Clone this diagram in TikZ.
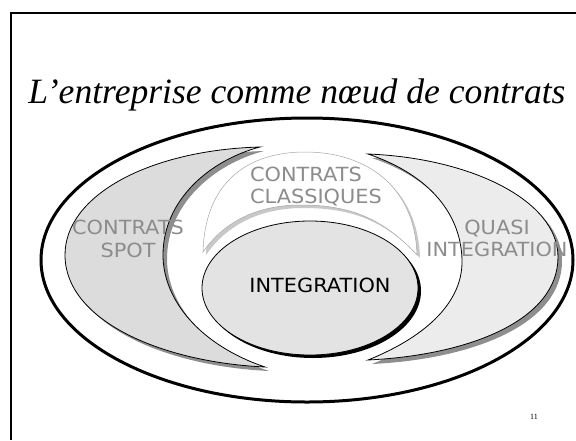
\documentclass[tikz,border=0pt]{standalone}
\usepackage{fontspec}
\setmainfont{Liberation Serif}
\newfontfamily\comicfont{DejaVu Sans}
\definecolor{spotgray}{HTML}{DCDCDC}
\definecolor{quasigray}{HTML}{ECECEC}
\definecolor{integgray}{HTML}{E3E3E3}
\definecolor{shadowgray}{HTML}{8E8E8E}
\definecolor{lightshadow}{HTML}{C8C8C8}
\definecolor{labelgray}{HTML}{8C8C8C}
\tikzset{
  crescent/.style={draw=black, line width=0.8pt},
  label/.style={font=\comicfont\fontsize{19.5}{22.5}\selectfont, text=labelgray, inner sep=0pt, xscale=1.07},
}

\begin{document}
\begin{tikzpicture}[x=1pt,y=-1pt]
	\useasboundingbox (0,0) rectangle (576,440);
	% cadre de la diapositive
	\draw[line width=2pt] (576,13) -| (11,440);
	\node[font=\itshape\fontsize{35.6}{40}\selectfont, anchor=base] (title) at (297,103) {L’entreprise comme nœud de contrats};
	\draw[line width=3pt] (307,260) ellipse [x radius=266, y radius=142];
	% contrats spot
	\fill[shadowgray, shift={(4,4)}] (260,147) .. controls (150,150) and (65,195) .. (65,255) .. controls (65,320) and (160,362) .. (265,367)
		.. controls (200,345) and (163,300) .. (163,255) .. controls (163,200) and (210,160) .. (260,147) -- cycle;
	\filldraw[crescent, fill=spotgray] (260,147) .. controls (150,150) and (65,195) .. (65,255) .. controls (65,320) and (160,362) .. (265,367)
		.. controls (200,345) and (163,300) .. (163,255) .. controls (163,200) and (210,160) .. (260,147) -- cycle;
	% quasi integration
	\fill[shadowgray, shift={(4,4)}] (368,154) .. controls (470,158) and (558,200) .. (558,257) .. controls (558,320) and (470,355) .. (368,360)
		.. controls (430,335) and (462,300) .. (462,262) .. controls (462,215) and (430,175) .. (368,154) -- cycle;
	\filldraw[crescent, fill=quasigray] (368,154) .. controls (470,158) and (558,200) .. (558,257) .. controls (558,320) and (470,355) .. (368,360)
		.. controls (430,335) and (462,300) .. (462,262) .. controls (462,215) and (430,175) .. (368,154) -- cycle;
	% contrats classiques
	\fill[lightshadow, shift={(3,3)}] (203,252) .. controls (205,180) and (250,152) .. (305,152) .. controls (365,152) and (415,185) .. (417,255)
		.. controls (380,215) and (345,205) .. (300,205) .. controls (260,205) and (225,220) .. (203,252) -- cycle;
	\filldraw[draw=gray!70, line width=0.5pt, fill=white] (203,252) .. controls (205,180) and (250,152) .. (305,152) .. controls (365,152) and (415,185) .. (417,255)
		.. controls (380,215) and (345,205) .. (300,205) .. controls (260,205) and (225,220) .. (203,252) -- cycle;
	% integration
	\fill[black] (313,291) ellipse [x radius=108, y radius=67];
	\filldraw[draw=black, line width=0.8pt, fill=integgray] (310,288) ellipse [x radius=108, y radius=67];
	% textes
	\node[label, align=center] (spot) at (128,239) {CONTRATS\\SPOT};
	\node[label, align=left] (classiques) at (316,186.5) {CONTRATS\\CLASSIQUES};
	\node[label, align=center] (quasi) at (497,238.5) {QUASI\\INTEGRATION};
	\node[label, text=black] (integ) at (320,285) {INTEGRATION};
	\node[font=\fontsize{8}{9}\selectfont] (page) at (534,417) {11};
\end{tikzpicture}
\end{document}
